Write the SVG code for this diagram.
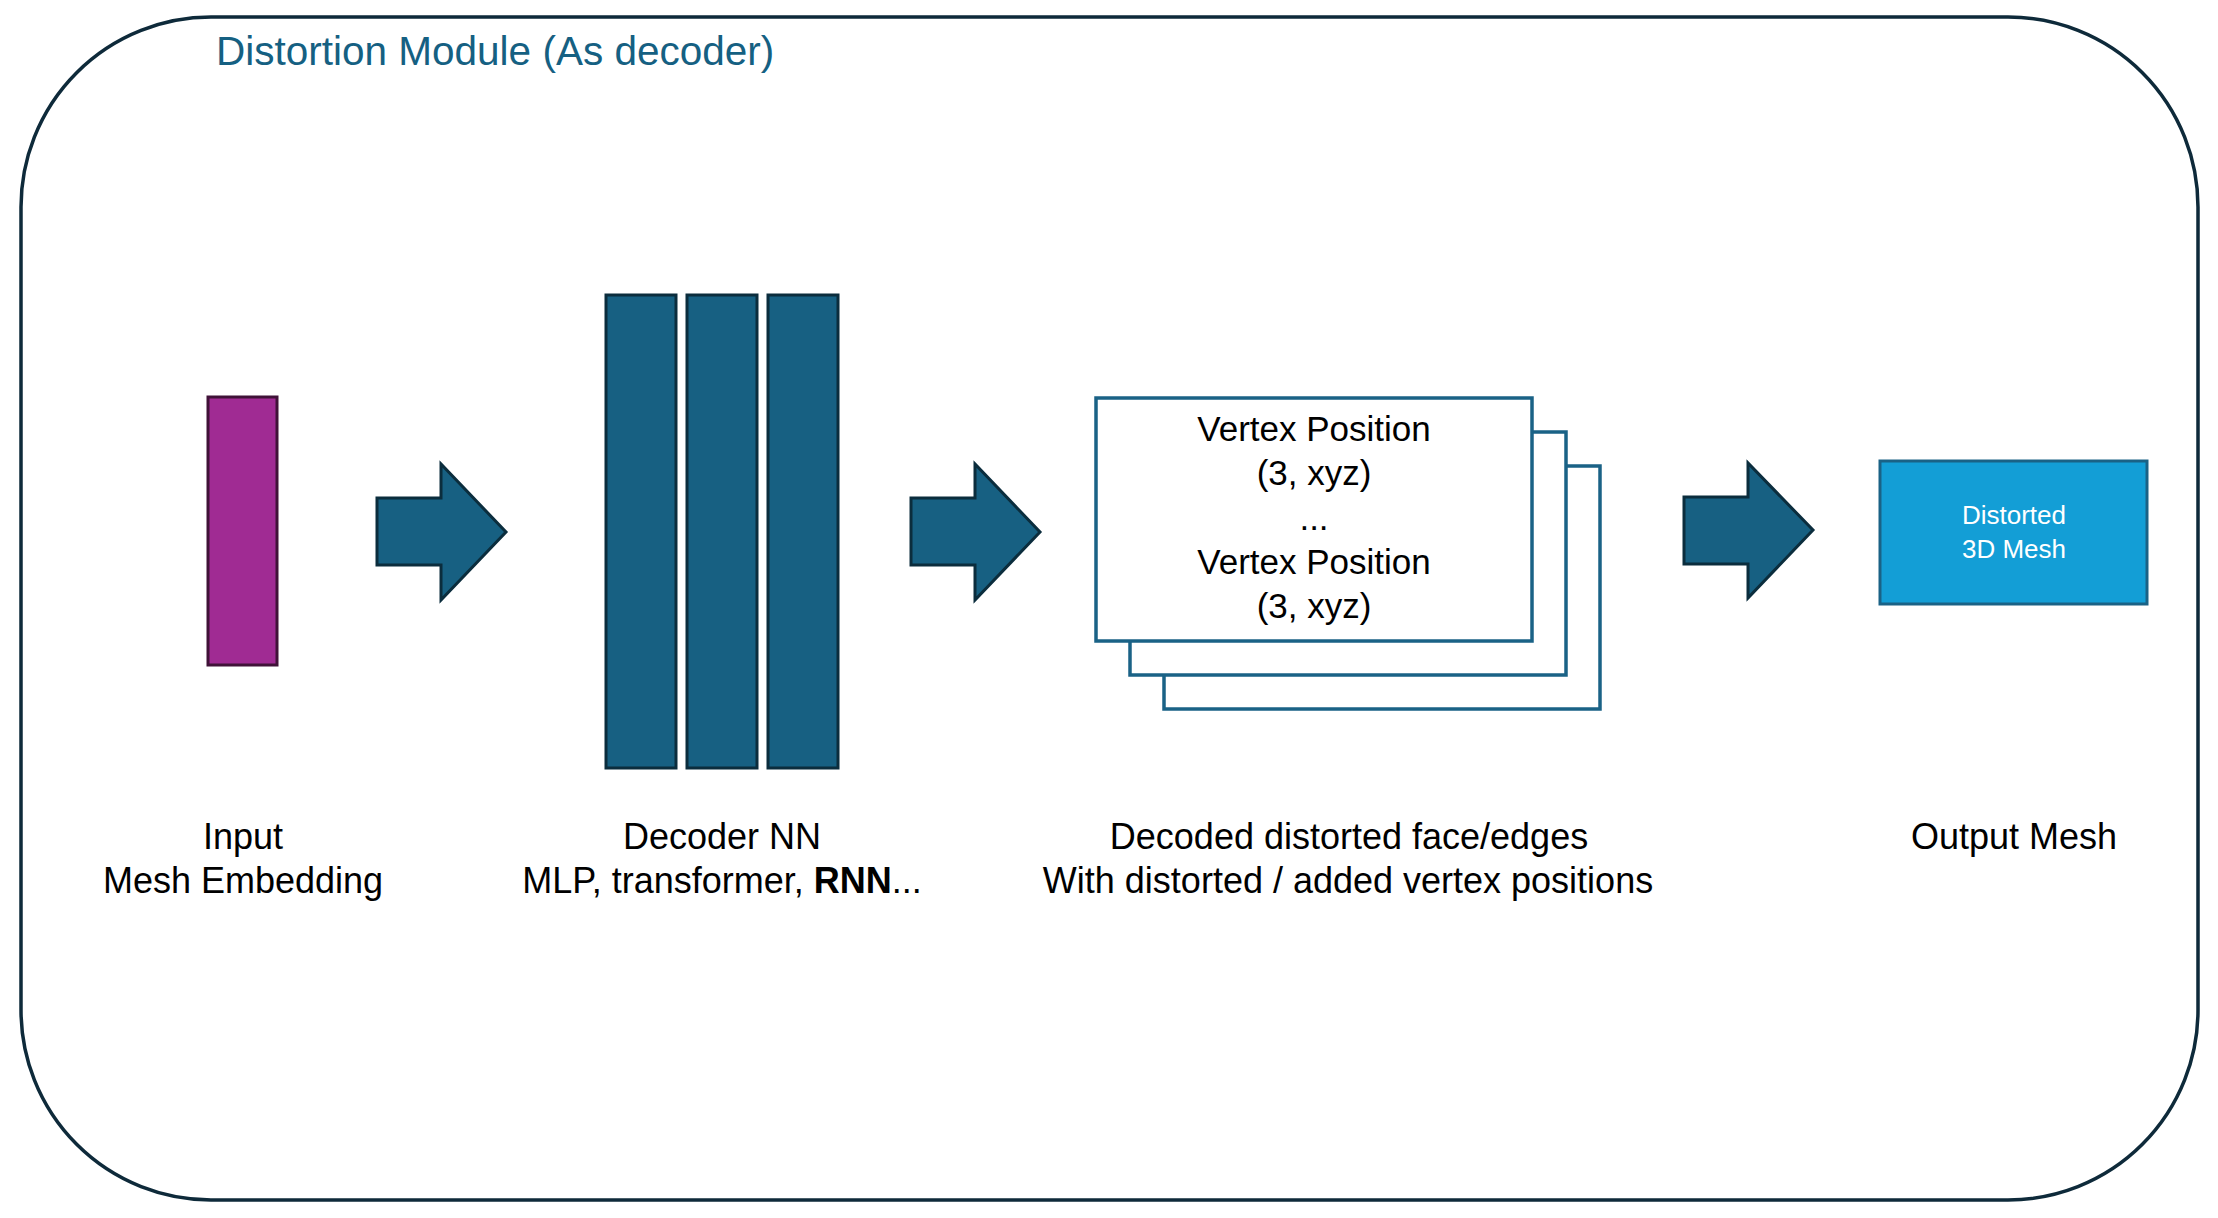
<svg xmlns="http://www.w3.org/2000/svg" width="2218" height="1218" viewBox="0 0 2218 1218">
<style>
text{font-family:"Liberation Sans",Arial,sans-serif;fill:#000}
.lbl{font-size:35px;text-anchor:middle}
.cap{font-size:36px;text-anchor:middle}
.title{font-size:40.5px;fill:#156082}
.arrow{fill:#176082;stroke:#0B2D3D;stroke-width:3;stroke-linejoin:miter}
.bar{fill:#176082;stroke:#0B2D3D;stroke-width:3}
.doc{fill:#fff;stroke:#1A6286;stroke-width:3.5}
.out{font-size:26px;fill:#fff;text-anchor:middle}
</style>
<rect x="0" y="0" width="2218" height="1218" fill="#fff"/>
<g id="module">
<rect x="21" y="17" width="2177" height="1183" rx="190" ry="190" fill="none" stroke="#0E2A3A" stroke-width="3.5"/>
<text class="title" x="216" y="65">Distortion Module (As decoder)</text>
</g>
<g id="input">
<rect x="208" y="397" width="69" height="268" fill="#A02B93" stroke="#401238" stroke-width="3"/>
<text class="cap" x="243" y="849">Input</text>
<text class="cap" x="243" y="893">Mesh Embedding</text>
</g>
<g id="decoder">
<rect class="bar" x="606" y="295" width="70" height="473"/>
<rect class="bar" x="687" y="295" width="70" height="473"/>
<rect class="bar" x="768" y="295" width="70" height="473"/>
<text class="cap" x="722" y="849">Decoder NN</text>
<text class="cap" x="722" y="893">MLP, transformer, <tspan font-weight="bold">RNN</tspan>...</text>
</g>
<g id="decoded">
<rect class="doc" x="1164" y="466" width="436" height="243"/>
<rect class="doc" x="1130" y="432" width="436" height="243"/>
<rect class="doc" x="1096" y="398" width="436" height="243"/>
<text class="lbl" x="1314" y="441">Vertex Position</text>
<text class="lbl" x="1314" y="485">(3, xyz)</text>
<text class="lbl" x="1314" y="530">...</text>
<text class="lbl" x="1314" y="574">Vertex Position</text>
<text class="lbl" x="1314" y="618">(3, xyz)</text>
<text class="cap" x="1349" y="849">Decoded distorted face/edges</text>
<text class="cap" x="1348" y="893">With distorted / added vertex positions</text>
</g>
<g id="output">
<rect x="1880" y="461" width="267" height="143" fill="#139ED6" stroke="#1A6286" stroke-width="3"/>
<text class="out" x="2014" y="524">Distorted</text>
<text class="out" x="2014" y="558">3D Mesh</text>
<text class="cap" x="2014" y="849">Output Mesh</text>
</g>
<g id="connectors">
<polygon class="arrow" points="377,498 441,498 441,464 506,532 441,600 441,565 377,565"/>
<polygon class="arrow" points="911,498 975,498 975,464 1040,532 975,600 975,565 911,565"/>
<polygon class="arrow" points="1684,497 1748,497 1748,463 1813,530 1748,598 1748,564 1684,564"/>
</g>
</svg>
